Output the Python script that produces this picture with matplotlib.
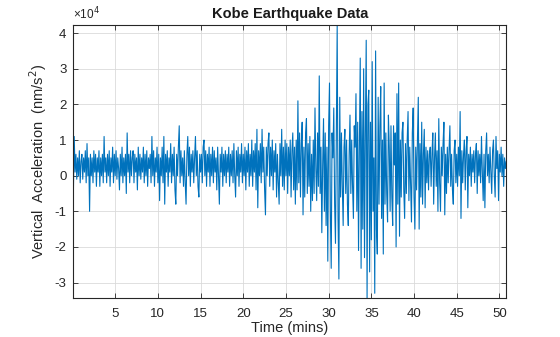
import numpy as np
import matplotlib
matplotlib.use("Agg")
import matplotlib.pyplot as plt
from matplotlib.ticker import FuncFormatter

plt.rcParams['font.family'] = ['Liberation Sans', 'DejaVu Sans']
plt.rcParams['axes.unicode_minus'] = False

# Vertical acceleration, in thousands of nm/s^2, one value every 0.1 min
accel_k = [
    -5, 11, 1, 6, -1, 5, 0, 7, -2, 4,
    6, -1, 5, 1, 7, -2, 9, 0, 5, -10,
    6, 0, 5, -2, 7, 1, 6, -3, 5, 1,
    7, -3, 5, 0, 6, -2, 11, 1, 5, -2,
    6, 0, 7, -3, 5, 1, 8, -2, 6, 0,
    7, -1, 5, 2, -4, 6, 0, 8, -2, 5,
    0, 6, -5, 12, 1, 6, -2, 7, 0, 5,
    7, -2, 6, 1, 5, -4, 8, 0, 6, -1,
    5, 1, 8, -2, 6, 0, 7, -3, 5, 2,
    6, -2, 11, 0, 7, -3, 5, 1, 8, -2,
    6, -7, 5, 0, 8, -2, 11, -8, 6, 1,
    7, -3, 5, 1, 9, -2, 6, 0, 8, -4,
    -8, 6, 0, 8, 14, -2, 7, 0, 5, -3,
    7, -2, -8, 6, 11, 0, 8, -3, 6, 1,
    7, -2, 5, 11, 0, 7, -3, -6, 6, 1,
    6, -2, 8, 10, 0, 7, -3, 6, 1, 8,
    -3, 6, 0, 8, -2, 7, 1, 5, -4, 8,
    0, -8, 6, 1, 8, -3, 6, 0, 7, -2,
    6, 1, 8, -3, 6, 0, 7, -2, 9, 0,
    -6, 7, 0, 8, -3, 6, 1, 9, -2, 6,
    0, 8, -4, 7, 1, 9, -3, 6, 0, 10,
    -3, 7, 1, 9, -4, 13, -9, 7, 0, 9,
    -2, 13, 1, 8, -4, -11, 8, 0, 9, 12,
    -3, 8, 0, 10, -4, 7, 1, 9, -6, 6,
    -2, -8, 9, 0, 13, -3, 8, -4, 10, 0,
    9, -5, 8, 0, 10, -6, 7, 12, -4, 8,
    -8, 10, -4, 21, -2, 12, -6, 9, 15, -11,
    8, -6, 12, 16, -5, 9, -3, 11, -10, 6,
    -7, 10, -5, 19, 2, -7, 12, -3, 28, -5,
    8, -16, 3, 16, -10, 12, -14, 8, -24, 14,
    26, -10, -26, 12, 5, 19, -8, -19, 10, 42,
    -12, -29, 22, -6, 12, -3, -14, 8, 13, -5,
    10, -8, -14, 6, 17, -5, 10, -3, -12, 14,
    8, 23, -10, 15, -21, 8, 33, -26, 18, -15,
    30, -23, 12, 38, -35, 20, 24, -27, 15, -18,
    32, -10, 5, -33, 35, -15, -22, 22, -8, 14,
    25, -12, 10, -22, 26, -8, 12, -5, -13, 17,
    8, -10, 14, -6, -14, 14, 3, 12, -20, 23,
    -8, 26, -17, 10, -6, 12, 15, -4, -12, 9,
    -5, 10, 18, -7, 8, -3, -13, 12, 19, -6,
    -15, 8, -4, 10, 22, -15, 9, -6, 15, -8,
    6, 13, -9, 8, -2, 7, -4, 6, 8, -3,
    6, 12, -8, 5, 12, -3, 7, -10, 16, -2,
    -10, 8, 0, 9, 15, -11, 6, -5, 8, -2,
    7, 14, -3, 6, -4, -8, 7, 10, -2, 6,
    -3, 8, 0, 18, -12, 7, -2, 6, 10, -4,
    7, 11, -9, 6, 0, 8, -3, 6, 1, 7,
    -2, 6, 9, -5, 7, 0, 6, -2, 11, 1,
    -7, 6, -9, 7, 12, 0, 6, -2, 8, 1,
    -5, 7, 10, 0, -6, 11, 2, 7, -7, 6,
    1, 8, 0, 6, -3, 5, 2, 4,
]
sample_step_min = 0.1
x_ticks = [5, 10, 15, 20, 25, 30, 35, 40, 45, 50]
y_ticks = [-3e4, -2e4, -1e4, 0, 1e4, 2e4, 3e4, 4e4]

accel = np.array(accel_k, dtype=float) * 1000.0
time_min = (np.arange(len(accel)) + 1) * sample_step_min

fig = plt.figure(figsize=(5.6, 3.37), dpi=100)
ax = fig.add_axes([0.131, 0.116, 0.773, 0.809])
ax.plot(time_min, accel, color='#0072BD', linewidth=0.8)

ax.set_xlim(time_min[0], time_min[-1])
ax.set_ylim(-3.43e4, 4.22e4)
ax.set_xticks(x_ticks)
ax.set_yticks(y_ticks)
ax.yaxis.set_major_formatter(FuncFormatter(lambda v, p: '%d' % round(v / 1e4)))
ax.text(0.0, 1.012, '×10$^4$', transform=ax.transAxes, fontsize=8.5,
        color='#262626', ha='left', va='bottom')

ax.grid(True, color='#dadada', linewidth=0.6)
ax.set_axisbelow(True)
for s in ax.spines.values():
    s.set_color('#262626')
    s.set_linewidth(0.8)
ax.tick_params(direction='in', top=True, right=True, length=3.5, width=0.6,
               colors='#262626', labelsize=9.5)
ax.tick_params(axis='x', pad=7)
ax.tick_params(axis='y', pad=5)

ax.set_title('Kobe Earthquake Data', fontsize=10.5, fontweight='bold', color='#1a1a1a', pad=5)
ax.set_xlabel('Time (mins)', fontsize=10.5, color='#262626', labelpad=1)
ax.set_ylabel('Vertical  Acceleration  (nm/s$^2$)', fontsize=10.5, color='#262626', labelpad=4)

fig.savefig('out.png', dpi=100)
